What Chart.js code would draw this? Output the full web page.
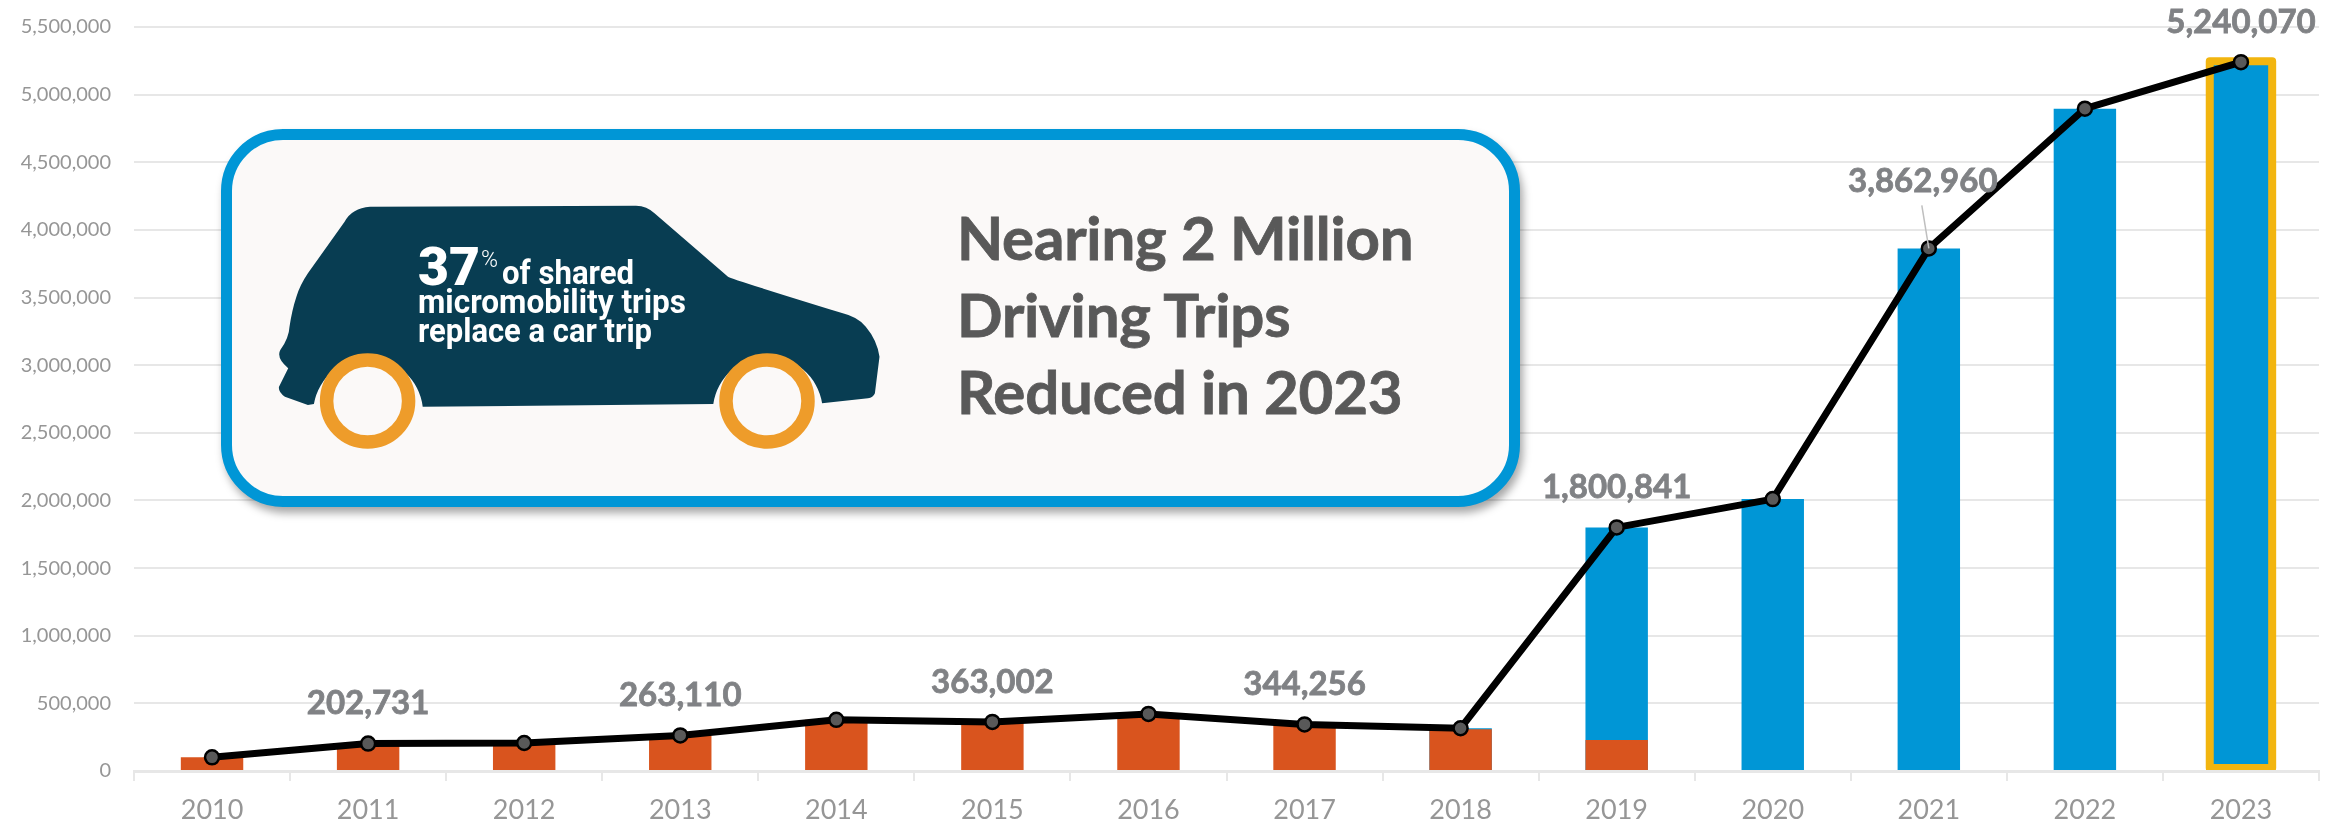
<!DOCTYPE html>
<html lang="en">
<head>
<meta charset="utf-8">
<title>Micromobility trips by year</title>
<script src="https://cdn.jsdelivr.net/npm/chart.js@4"></script>
<style>
  html, body { margin: 0; padding: 0; background: #fff; overflow: hidden; }
  #stage { position: relative; width: 2346px; height: 827px; }
  #chart { position: absolute; left: 0; top: 0; }
  #callout {
    position: absolute; left: 221px; top: 129px; width: 1299px; height: 378px;
    box-sizing: border-box; border: 11.5px solid #0096D6; border-radius: 62px;
    background: #FBF9F8; box-shadow: 3px 6px 8px rgba(0,0,0,.35);
  }
  #headline {
    position: absolute; left: 957px; top: 199px; margin: 0;
    font: 700 60px/77px Lato, sans-serif; color: #595959; white-space: nowrap;
    letter-spacing: -0.2px; -webkit-text-stroke: 0.8px #595959;
  }
  #car { position: absolute; left: 0; top: 0; }
  #car text { fill: #fff; font-family: Roboto, sans-serif; }
</style>
</head>
<body>
<div id="stage">
  <canvas id="chart" width="2346" height="827"></canvas>
  <div id="callout"></div>
  <svg id="car" width="2346" height="827" viewBox="0 0 2346 827">
    <path fill="#083D52" d="M370 206.7 L636 205.7 Q647 206 654.5 213.3 L728 276.7 Q731 279 842.8 313.3
      Q858 317 865.8 326.7 Q877 340 879.5 356.7 L874.9 393.3 Q873 398 868 398.3 L822.1 403.3
      A55 55 0 0 0 713.3 404 L422.7 406.7 A55 55 0 0 0 313.9 404 L307.9 405 L284.9 396.7
      Q278 392 279 386.7 L288.2 368.3 Q276 358 280.3 350 Q289 338 289.5 326.7 Q292 310 296.4 296.7
      Q300 285 307.9 273.3 L344.6 221.7 Q352 208 370 206.7 Z"/>
    <circle cx="367.6" cy="401" r="41" fill="none" stroke="#EE9C2A" stroke-width="13.5"/>
    <circle cx="767" cy="401" r="41" fill="none" stroke="#EE9C2A" stroke-width="13.5"/>
    <text x="418" y="285" font-size="54" font-weight="900" textLength="62" lengthAdjust="spacingAndGlyphs">37</text>
    <text x="481" y="267" font-size="24" font-weight="300" textLength="17" lengthAdjust="spacingAndGlyphs">%</text>
    <text x="502" y="284" font-size="33" font-weight="700" textLength="132" lengthAdjust="spacingAndGlyphs">of shared</text>
    <text x="418" y="313" font-size="33" font-weight="700" textLength="268" lengthAdjust="spacingAndGlyphs">micromobility trips</text>
    <text x="418" y="342" font-size="33" font-weight="700" textLength="234" lengthAdjust="spacingAndGlyphs">replace a car trip</text>
  </svg>
  <p id="headline">Nearing 2 Million<br>Driving Trips<br>Reduced in 2023</p>
</div>
<script>
// Yearly figures for the chart
const years = ['2010','2011','2012','2013','2014','2015','2016','2017','2018','2019','2020','2021','2022','2023'];
const dockedTrips = [101000, 202731, 207000, 263110, 378000, 363002, 422000, 344256, 308000, 229000, null, null, null, null];
const allTrips = [null, null, null, null, null, null, null, null, 316000, 1800841, 2010000, 3862960, 4896000, 5240070];
const totalTrips = [101000, 202731, 207000, 263110, 378000, 363002, 422000, 344256, 316000, 1800841, 2010000, 3862960, 4896000, 5240070];
const labelledYears = ['2011','2013','2015','2017','2019','2021','2023'];
const highlightedYear = '2023';

const FONT = 'Lato, sans-serif';
const GRID = '#E7E7E7';
const TICK_TEXT = '#969696';
const LABEL_TEXT = '#808285';

// Value labels above the line; 2021 sits off to the side with a leader line
const totalLabels = {
  id: 'totalLabels',
  afterDatasetsDraw(chart) {
    const { ctx } = chart;
    const pts = chart.getDatasetMeta(2).data;
    ctx.save();
    ctx.font = '700 33px ' + FONT;
    ctx.fillStyle = LABEL_TEXT;
    ctx.strokeStyle = LABEL_TEXT;
    ctx.lineWidth = 0.8;
    ctx.textAlign = 'center';
    ctx.textBaseline = 'middle';
    labelledYears.forEach(y => {
      const i = years.indexOf(y);
      const p = pts[i];
      const side = y === '2021';
      const lx = p.x + (side ? -6 : 0);
      const ly = p.y + (side ? -67 : -40);
      if (side) {
        ctx.save();
        ctx.strokeStyle = '#BFBFBF';
        ctx.lineWidth = 1.5;
        ctx.beginPath();
        ctx.moveTo(p.x - 7, p.y - 43);
        ctx.lineTo(p.x, p.y);
        ctx.stroke();
        ctx.restore();
      }
      const text = totalTrips[i].toLocaleString('en-US');
      ctx.fillText(text, lx, ly);
      ctx.strokeText(text, lx, ly);
    });
    ctx.restore();
  }
};

// Outline around the highest year's bar
const barOutline = {
  id: 'barOutline',
  beforeDatasetDraw(chart, args) {
    if (args.index !== 2) return;
    const bar = chart.getDatasetMeta(1).data[years.indexOf(highlightedYear)];
    const half = bar.width / 2;
    const { ctx } = chart;
    ctx.save();
    ctx.strokeStyle = '#F2B50F';
    ctx.lineWidth = 8;
    ctx.lineJoin = 'round';
    ctx.strokeRect(bar.x - half, bar.y - 1, bar.width, bar.base - bar.y - 1);
    ctx.restore();
  }
};

new Chart(document.getElementById('chart'), {
  data: {
    labels: years,
    datasets: [
      { type: 'bar', label: 'Docked', data: dockedTrips, backgroundColor: '#D9541E', order: 2, grouped: false, barPercentage: 0.4, categoryPercentage: 1 },
      { type: 'bar', label: 'All trips', data: allTrips, backgroundColor: '#0096D6', order: 3, grouped: false, barPercentage: 0.4, categoryPercentage: 1 },
      { type: 'line', label: 'Total', data: totalTrips, borderColor: '#000', borderWidth: 7, tension: 0, order: 1,
        pointRadius: 7, pointBackgroundColor: '#595959', pointBorderColor: '#000', pointBorderWidth: 2.5 }
    ]
  },
  options: {
    responsive: false,
    animation: false,
    layout: { padding: { top: 27, right: 27, left: 0, bottom: 0 } },
    plugins: { legend: { display: false }, tooltip: { enabled: false } },
    scales: {
      x: {
        offset: true,
        grid: { display: true, drawOnChartArea: false, drawTicks: true, tickLength: 10, color: GRID, lineWidth: 2, offset: true },
        border: { display: true, color: GRID, width: 3, z: 1 },
        ticks: { color: TICK_TEXT, font: { family: FONT, size: 27 }, padding: 13, maxRotation: 0, autoSkip: false },
        afterFit(scale) { scale.height = 56; }
      },
      y: {
        min: 0, max: 5500000,
        grid: { color: GRID, lineWidth: 2, drawTicks: false },
        border: { display: false },
        ticks: {
          stepSize: 500000, color: TICK_TEXT, padding: 23,
          font: { family: FONT, size: 20 },
          callback: v => v.toLocaleString('en-US')
        },
        // tick padding would otherwise push the plot down from the top edge
        afterFit(scale) { scale.width = 134; scale.paddingTop = 0; scale.paddingBottom = 0; }
      }
    }
  },
  plugins: [barOutline, totalLabels]
});
</script>
</body>
</html>
